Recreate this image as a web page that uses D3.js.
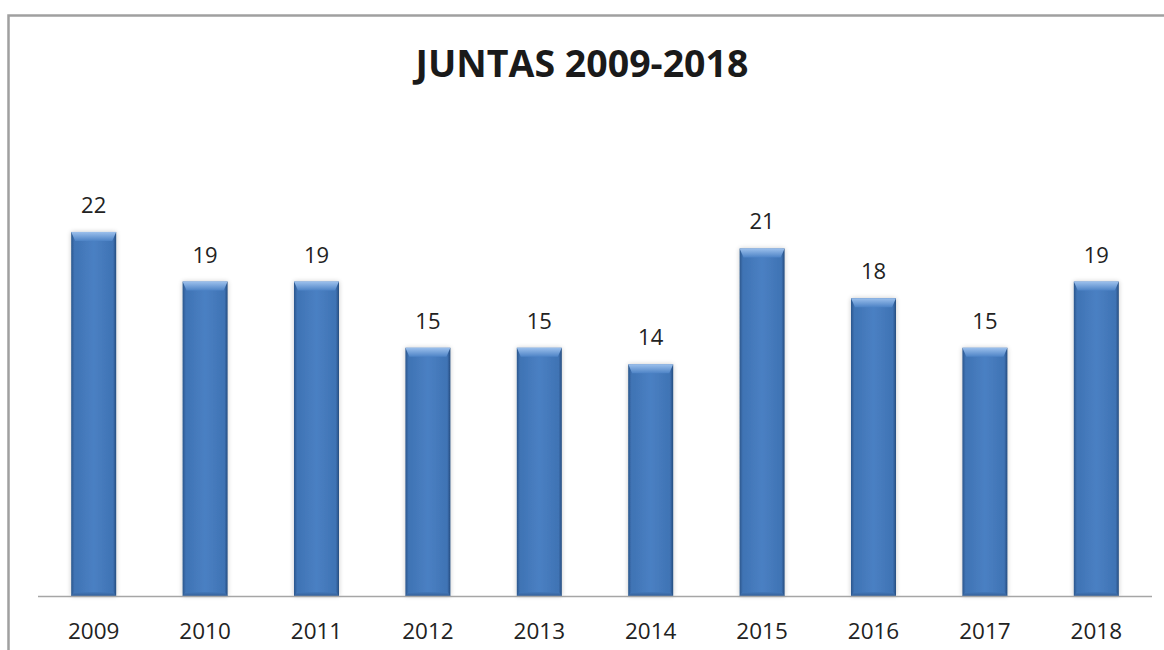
<!DOCTYPE html>
<html><head><meta charset="utf-8">
<script src="https://cdn.jsdelivr.net/npm/d3@7/dist/d3.min.js"></script>
<style>body{margin:0;background:#fff;} svg{display:block;}</style>
</head><body>
<svg id="c" width="1164" height="650"></svg>
<script>
const title = "JUNTAS 2009-2018";
const categories = ["2009","2010","2011","2012","2013","2014","2015","2016","2017","2018"];
const values = [22,19,19,15,15,14,21,18,15,19];

const svg = d3.select("#c");
const font = "'Open Sans', Lato, sans-serif";
const defs = svg.append("defs");

// chart frame (extends beyond viewport on right/bottom)
svg.append("rect").attr("x",8.5).attr("y",15.5).attr("width",1200).attr("height",700)
  .attr("fill","#fff").attr("stroke","#a0a0a0").attr("stroke-width",2.5);

const x = d3.scaleBand().domain(categories).range([38,1152]).paddingInner(0.596).paddingOuter(0.298);
const y = d3.scaleLinear().domain([0,25]).range([596,182.3]);

// gradients
const hg = defs.append("linearGradient").attr("id","hg").attr("x1","0").attr("x2","1").attr("y1","0").attr("y2","0");
hg.append("stop").attr("offset","0").attr("stop-color","#2b568c");
hg.append("stop").attr("offset","0.07").attr("stop-color","#3f73b4");
hg.append("stop").attr("offset","0.5").attr("stop-color","#4a80c3");
hg.append("stop").attr("offset","0.93").attr("stop-color","#3f73b4");
hg.append("stop").attr("offset","1").attr("stop-color","#254c7e");
const tg = defs.append("linearGradient").attr("id","tg").attr("x1","0").attr("x2","0").attr("y1","0").attr("y2","1");
tg.append("stop").attr("offset","0").attr("stop-color","#9cc0ec");
tg.append("stop").attr("offset","1").attr("stop-color","#4d83c6");
const bg = defs.append("linearGradient").attr("id","bg").attr("x1","0").attr("x2","0").attr("y1","0").attr("y2","1");
bg.append("stop").attr("offset","0").attr("stop-color","#4479ba");
bg.append("stop").attr("offset","1").attr("stop-color","#335f98");
const f = defs.append("filter").attr("id","sh").attr("x","-30%").attr("y","-10%").attr("width","160%").attr("height","120%");
f.append("feGaussianBlur").attr("in","SourceAlpha").attr("stdDeviation",2.5).attr("result","b");
f.append("feComponentTransfer").attr("in","b").attr("result","s").append("feFuncA").attr("type","linear").attr("slope",0.22);
const m = f.append("feMerge"); m.append("feMergeNode").attr("in","s"); m.append("feMergeNode").attr("in","SourceGraphic");

const data = categories.map((c,i)=>({c, v: values[i]}));
const g = svg.append("g");
const bars = g.selectAll("g.bar").data(data).join("g").attr("class","bar");
bars.append("rect")
  .attr("x", d=>x(d.c)).attr("y", d=>y(d.v))
  .attr("width", x.bandwidth()).attr("height", d=>y(0)-y(d.v))
  .attr("fill","url(#hg)").attr("filter","url(#sh)");
const bev = 9;
bars.append("path")
  .attr("d", d=>{
    const x0=x(d.c), x1=x0+x.bandwidth(), t=y(d.v);
    return `M${x0},${t}L${x1},${t}L${x1-4},${t+bev}L${x0+4},${t+bev}Z`;
  })
  .attr("fill","url(#tg)");
bars.append("path")
  .attr("d", d=>{
    const x0=x(d.c), x1=x0+x.bandwidth(), b=y(0);
    return `M${x0+3},${b-4}L${x1-3},${b-4}L${x1},${b}L${x0},${b}Z`;
  })
  .attr("fill","url(#bg)");

// axis line
svg.append("line").attr("x1",38).attr("x2",1152).attr("y1",596.5).attr("y2",596.5)
  .attr("stroke","#a6a6a6").attr("stroke-width",1.5);

// value labels
g.selectAll("text.val").data(data).join("text").attr("class","val")
  .attr("x", d=>x(d.c)+x.bandwidth()/2).attr("y", d=>y(d.v)-19)
  .attr("text-anchor","middle").attr("font-family",font).attr("font-size",22)
  .attr("fill","#222").text(d=>d.v);

// category labels
const xa = svg.append("g").attr("transform","translate(0,596)")
  .call(d3.axisBottom(x).tickSize(0).tickPadding(0));
xa.select(".domain").remove();
xa.selectAll("text").attr("font-family",font).attr("font-size",22.5).attr("fill","#222")
  .attr("dy",null).attr("y",43);

// title
svg.append("text").attr("x",582).attr("y",77).attr("text-anchor","middle")
  .attr("font-family",font).attr("font-weight","bold").attr("font-size",37.5)
  .attr("fill","#1a1a1a").text(title);
</script>
</body></html>
